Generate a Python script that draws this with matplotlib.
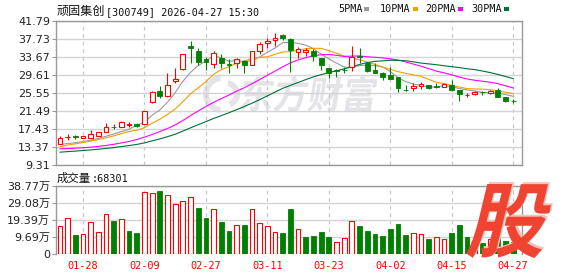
import numpy as np
import matplotlib
matplotlib.use('Agg')
import matplotlib.pyplot as plt
from matplotlib.patches import Rectangle, PathPatch, Wedge
from matplotlib.textpath import TextPath
from matplotlib.font_manager import FontProperties
from matplotlib.transforms import Affine2D

plt.rcParams['font.family'] = ['DejaVu Sans', 'Noto Sans CJK SC']

stock_name = '顽固集创'
title_rest = '[300749] 2026-04-27 15:30'
dates = ['01-23', '01-26', '01-27', '01-28', '01-29', '01-30',
         '02-02', '02-03', '02-04', '02-05', '02-06', '02-09',
         '02-10', '02-11', '02-12', '02-13', '02-24', '02-25', '02-26', '02-27',
         '03-02', '03-03', '03-04', '03-05', '03-06', '03-09', '03-10', '03-11',
         '03-12', '03-13', '03-16', '03-17', '03-18', '03-19', '03-20', '03-23',
         '03-24', '03-25', '03-26', '03-27', '03-30', '03-31', '04-01', '04-02',
         '04-03', '04-07', '04-08', '04-09', '04-10', '04-13', '04-14', '04-15',
         '04-16', '04-17', '04-20', '04-21', '04-22', '04-23', '04-24', '04-27']
opens = [13.97, 15.60, 15.80, 15.33, 15.47, 15.85, 16.68, 17.98, 17.81, 18.40,
         18.48, 18.48, 23.44, 26.08, 24.87, 28.26, 30.96, 36.23, 35.02, 33.14,
         32.17, 33.37, 32.00, 32.32, 32.69, 31.94, 34.95, 36.90, 37.50, 38.63,
         37.80, 34.80, 34.72, 35.00, 33.52, 31.10, 30.70, 30.80, 31.49, 33.90,
         32.39, 30.74, 30.14, 29.61, 29.08, 26.30, 26.75, 27.20, 27.28, 27.05,
         26.98, 27.28, 26.23, 25.05, 25.32, 25.80, 25.47, 26.23, 24.57, 23.80]
highs = [15.85, 16.23, 16.07, 15.93, 17.20, 16.75, 18.71, 18.48, 19.31, 19.00,
         18.78, 21.55, 26.00, 27.20, 29.98, 31.10, 34.40, 37.28, 35.62, 33.74,
         35.10, 34.35, 33.14, 33.52, 33.00, 34.95, 37.05, 37.88, 39.00, 38.86,
         37.90, 35.85, 35.70, 35.40, 33.52, 31.10, 31.04, 31.34, 36.15, 35.62,
         32.62, 32.24, 30.36, 31.49, 29.08, 27.35, 27.88, 28.03, 27.28, 27.88,
         27.88, 28.48, 26.23, 25.47, 26.08, 26.08, 26.15, 26.60, 24.72, 24.20]
lows = [13.97, 14.95, 15.25, 15.33, 15.47, 15.85, 16.68, 17.43, 17.81, 17.95,
        17.81, 18.48, 23.22, 24.35, 24.57, 27.73, 30.74, 32.39, 31.87, 30.74,
        31.26, 31.26, 30.14, 31.26, 30.14, 31.79, 34.35, 35.78, 36.15, 37.50,
        30.36, 33.52, 33.97, 32.84, 30.74, 29.00, 29.08, 29.99, 30.59, 32.24,
        30.36, 29.99, 28.50, 28.63, 25.85, 26.10, 26.08, 26.38, 26.38, 26.68,
        26.83, 26.08, 23.82, 24.72, 25.17, 25.17, 25.30, 24.57, 23.60, 23.37]
closes = [15.47, 15.70, 15.65, 15.77, 16.38, 16.68, 17.88, 17.85, 19.01, 18.50,
          18.03, 21.49, 25.70, 24.87, 27.28, 28.71, 34.35, 35.78, 32.54, 32.45,
          34.50, 32.24, 31.85, 33.14, 31.79, 34.95, 36.60, 37.20, 37.95, 37.88,
          35.25, 35.40, 35.25, 33.90, 31.79, 29.99, 30.60, 30.70, 33.75, 33.60,
          30.59, 29.99, 29.23, 28.63, 26.60, 26.20, 27.13, 27.58, 26.68, 26.98,
          27.58, 26.15, 25.32, 25.20, 25.85, 25.70, 26.00, 24.72, 23.82, 23.70]
volumes = [15.8, 20.2, 10.7, 11.2, 17.9, 12.4, 22.6, 18.6, 19.6, 12.9,
           12.0, 35.0, 34.4, 35.7, 33.5, 28.3, 29.9, 32.1, 26.0, 20.4,
           25.3, 18.1, 12.9, 16.2, 16.4, 25.3, 17.5, 15.6, 12.4, 11.8,
           25.5, 13.9, 9.5, 10.1, 12.4, 9.5, 6.7, 8.8, 18.6, 15.8,
           12.9, 11.2, 10.1, 14.1, 16.9, 10.7, 11.8, 11.2, 8.4, 9.5,
           8.4, 12.0, 16.4, 9.3, 7.5, 6.3, 8.5, 11.0, 7.2, 6.83]
# leading MA values as drawn (earlier closes are off-chart)
ma5_head = [13.95, 14.15, 14.35, 14.58, 14.90, 15.30, 15.80, 16.30, 16.85, 17.40]
ma10_head = [13.45, 13.80, 14.10, 14.38, 14.70, 15.03, 15.45, 15.88, 16.40]
ma20_head = [12.95, 13.02, 13.10, 13.20, 13.33, 13.50, 13.72, 13.98, 14.30, 14.62,
             15.05, 15.60, 16.20, 16.85, 17.55, 18.35, 19.35, 20.45, 21.50]
ma30_head = [12.20, 12.33, 12.45, 12.57, 12.71, 12.86, 13.05, 13.24, 13.47, 13.70,
             13.95, 14.30, 14.75, 15.20, 15.70, 16.25, 16.95, 17.70, 18.40, 19.10,
             19.80, 20.45, 21.10, 21.80, 22.50, 23.25, 24.05, 24.90, 25.75]
ma_names = ['5PMA', '10PMA', '20PMA', '30PMA']
ma_windows = [5, 10, 20, 30]
main_ticks = [9.31, 13.37, 17.43, 21.49, 25.55, 29.61, 33.67, 37.73, 41.79]
vol_ticks = [0, 9.69, 19.39, 29.08, 38.77]
vol_tick_labels = ['0', '9.69万', '19.39万', '29.08万', '38.77万']
date_labels = ['01-28', '02-09', '02-27', '03-11', '03-23', '04-02', '04-15', '04-27']
last_volume = 68301
watermark = '东方财富'
logo_char = '股'

RED = '#ff0000'
GREEN = '#008000'
ma_colors = ['#9a9a9a', '#f0a000', '#ff00ff', '#00703a']
GRID = '#d4d4d4'
FRAME = '#999999'
MONO = 'DejaVu Sans Mono'

n = len(closes)
x = np.arange(n)
c = np.array(closes)
heads = [ma5_head, ma10_head, ma20_head, ma30_head]
mas = []
for w, h in zip(ma_windows, heads):
    full = np.convolve(c, np.ones(w) / w, mode='valid')
    mas.append(np.concatenate([h, full[len(h) - (w - 1):]]))

fig = plt.figure(figsize=(5.78, 2.76), dpi=100)
W, H = 578, 276
def ax_rect(l, t, r, b):
    return [l / W, 1 - b / H, (r - l) / W, (b - t) / H]

ax = fig.add_axes(ax_rect(55.5, 21, 522, 165))
axv = fig.add_axes(ax_rect(55.5, 185.7, 522, 253.7))

tick_pos = [dates.index(d) for d in date_labels]
xlim = (-0.58, n - 1 + 1.15)

def px_tr(tp, x0, y0, wpx, hpx, skew):
    e = tp.get_extents()
    k = np.tan(np.radians(skew))
    return (Affine2D().translate(-e.x0, -e.y0).skew_deg(skew, 0)
            .scale(wpx / (e.width + e.height * k) / 100, hpx / e.height / 100)
            .translate(x0 / 100, (H - y0) / 100) + fig.dpi_scale_trans)

# watermark (East Money)
wm_col = '#e3e3e8'
tp_wm = TextPath((0, 0), watermark, size=40,
                 prop=FontProperties(family='Noto Sans CJK SC', weight='bold'))
ax.add_patch(PathPatch(tp_wm, transform=px_tr(tp_wm, 239, 112, 139, 36, 10),
                       facecolor=wm_col, edgecolor='none', zorder=0.5))
logo_tr = Affine2D().scale(1 / 100) + fig.dpi_scale_trans
ax.add_patch(Wedge((222, H - 94), 19, 95, 265, width=6, transform=logo_tr,
                   facecolor=wm_col, edgecolor='none', zorder=0.5))
ax.add_patch(Wedge((226, H - 94), 14, -70, 80, width=6, transform=logo_tr,
                   facecolor=wm_col, edgecolor='none', zorder=0.5))

bw = 0.62
for i in range(n):
    o, h_, l_, cl = opens[i], highs[i], lows[i], closes[i]
    up = cl > o
    col = RED if up else GREEN
    ax.vlines(i, l_, h_, color=col, lw=0.8, zorder=3)
    bot, top = min(o, cl), max(o, cl)
    hgt = max(top - bot, 0.08)
    if up:
        ax.add_patch(Rectangle((i - bw / 2, bot), bw, hgt, facecolor='white',
                               edgecolor=col, lw=0.8, zorder=4))
    else:
        ax.add_patch(Rectangle((i - bw / 2, bot), bw, hgt, facecolor=col,
                               edgecolor=col, lw=0.6, zorder=4))

for m, colr in zip(mas, ma_colors):
    ax.plot(x, m, color=colr, lw=0.8, zorder=2)

ax.set_xlim(*xlim)
ax.set_ylim(main_ticks[0], main_ticks[-1])
ax.set_yticks(main_ticks)
ax.set_yticklabels([f'{t:.2f}' for t in main_ticks])
ax.set_xticks(tick_pos)
ax.set_xticklabels([])
ax.grid(axis='y', color=GRID, lw=1.0, zorder=0)
ax.grid(axis='x', color='#c8c8c8', lw=0.9, ls=(0, (3, 3)), zorder=0)
ax.tick_params(axis='y', length=3, color=FRAME, labelsize=8, labelcolor='#222222', pad=1)
ax.tick_params(axis='x', length=0)
for s in ax.spines.values():
    s.set_color(FRAME)
    s.set_linewidth(1.0)

# volume
for i in range(n):
    up = closes[i] >= closes[i - 1] if i > 0 else closes[i] > opens[i]
    col = RED if up else GREEN
    if up:
        axv.add_patch(Rectangle((i - bw / 2, 0), bw, volumes[i], facecolor='white',
                                edgecolor=col, lw=0.8, zorder=3))
    else:
        axv.add_patch(Rectangle((i - bw / 2, 0), bw, volumes[i], facecolor=col,
                                edgecolor=col, lw=0.6, zorder=3))
axv.set_xlim(*xlim)
axv.set_ylim(0, vol_ticks[-1])
axv.set_yticks(vol_ticks)
axv.set_yticklabels(vol_tick_labels)
axv.set_xticks(tick_pos)
axv.set_xticklabels(date_labels, family=MONO, fontsize=7.4, color=RED)
axv.grid(axis='y', color=GRID, lw=1.0, zorder=0)
axv.grid(axis='x', color='#c8c8c8', lw=0.9, ls=(0, (3, 3)), zorder=0)
axv.tick_params(axis='y', length=3, color=FRAME, labelsize=8, labelcolor='#222222', pad=1)
axv.tick_params(axis='x', length=0, pad=5)
for s in axv.spines.values():
    s.set_color(FRAME)
    s.set_linewidth(1.0)
axv.spines['bottom'].set_visible(False)

# header texts
fig.text(56.5 / W, 1 - 15.5 / H, stock_name, fontsize=8.7, color='#111111',
         family=['Noto Sans CJK SC'], va='baseline')
fig.text(106 / W, 1 - 15.5 / H, title_rest, fontsize=7.3, color='#111111',
         family=MONO, va='baseline')
fig.text(57 / W, 1 - 181.5 / H, '成交量', fontsize=8.2, color='#111111',
         family=['Noto Sans CJK SC'], va='baseline')
fig.text(92 / W, 1 - 181.5 / H, f':{last_volume}', fontsize=7.3, color='#111111',
         family=MONO, va='baseline')

# MA legend
leg_x = [338, 380, 425, 471]
for name, colr, lx in zip(ma_names, ma_colors, leg_x):
    fig.text(lx / W, 1 - 12.5 / H, name, fontsize=7.3, color='#111111',
             family=MONO, va='baseline')
    tw = len(name) * 7.3 * 0.602 * 100 / 72
    fig.patches.append(Rectangle(((lx + tw + 2) / W, 1 - 11 / H), 5 / W, 4 / H,
                                 transform=fig.transFigure, facecolor=colr,
                                 edgecolor='none'))

# logo
tp = TextPath((0, 0), logo_char, size=60,
              prop=FontProperties(family='Noto Sans CJK SC', weight='black'))
fig.patches.append(PathPatch(tp, transform=px_tr(tp, 467, 256, 93, 74, 14),
                             facecolor='#f7c0b8', edgecolor='none', zorder=10))
fig.patches.append(PathPatch(tp, transform=px_tr(tp, 465, 258, 93, 74, 14),
                             facecolor='#ee4431', edgecolor='none', zorder=11))

fig.savefig('out.png', dpi=100)
